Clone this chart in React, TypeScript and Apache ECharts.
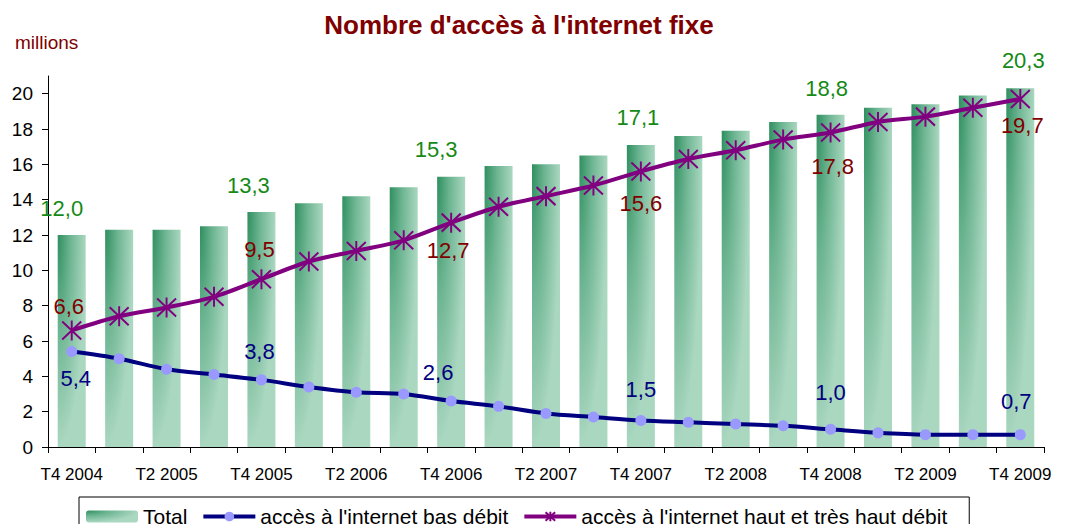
import React, { useEffect, useRef } from "react";
import * as echarts from "echarts";

const categories = [
  "T4 2004", "T1 2005", "T2 2005", "T3 2005", "T4 2005", "T1 2006", "T2 2006",
  "T3 2006", "T4 2006", "T1 2007", "T2 2007", "T3 2007", "T4 2007", "T1 2008",
  "T2 2008", "T3 2008", "T4 2008", "T1 2009", "T2 2009", "T3 2009", "T4 2009",
];
const total = [12.0, 12.3, 12.3, 12.5, 13.3, 13.8, 14.2, 14.7, 15.3, 15.9, 16.0, 16.5, 17.1, 17.6, 17.9, 18.4, 18.8, 19.2, 19.4, 19.9, 20.3];
const highSpeed = [6.6, 7.4, 7.9, 8.5, 9.5, 10.5, 11.1, 11.7, 12.7, 13.6, 14.2, 14.8, 15.6, 16.3, 16.8, 17.4, 17.8, 18.4, 18.7, 19.2, 19.7];
const lowSpeed = [5.4, 5.0, 4.4, 4.1, 3.8, 3.4, 3.1, 3.0, 2.6, 2.3, 1.9, 1.7, 1.5, 1.4, 1.3, 1.2, 1.0, 0.8, 0.7, 0.7, 0.7];
const yTicks = [0, 2, 4, 6, 8, 10, 12, 14, 16, 18, 20];
const labelledIdx = [0, 4, 8, 12, 16, 20];

// label styling (not data)
const totalLabelOffsets = [[-10, 0], [-13, 0], [-15, 0], [-3, 0], [-4, 1], [3, -1]];
const highLabelPos = ["top", "top", "bottom", "bottom", "bottom", "bottom"];
const highLabelOffsets = [[-3, 12], [-2, 6], [-3, -8], [0, -4], [2, -2], [2, -9]];
const lowLabelPos = ["bottom", "top", "top", "top", "top", "top"];
const lowLabelOffsets = [[4, -6], [-2, 4], [-13, 4], [0, 1], [0, -4], [-4, -1]];

const fmt = (v: number) => v.toFixed(1).replace(".", ",");
const FONT = "'Liberation Sans', Arial, sans-serif";

function withLabels(values: number[], color: string, pos: string[] | string, offsets: number[][], distance: number) {
  return values.map((v, i) => {
    const k = labelledIdx.indexOf(i);
    if (k < 0) return v;
    return {
      value: v,
      label: {
        show: true,
        position: Array.isArray(pos) ? pos[k] : pos,
        distance,
        offset: offsets[k],
        color,
        fontSize: 22,
        fontFamily: FONT,
        formatter: (p: any) => fmt(p.value),
      },
    };
  });
}

const barGradient = new echarts.graphic.RadialGradient(0, 0, 1, [
  { offset: 0, color: "#2f8f5f" },
  { offset: 0.45, color: "#6db592" },
  { offset: 1, color: "#aad7c0" },
]);

const starPath = "path://M0 1L18 19M18 1L0 19M9 0L9 20";

export default function App() {
  const ref = useRef<HTMLDivElement>(null);
  useEffect(() => {
    if (!ref.current) return;
    const chart = echarts.init(ref.current, undefined, { renderer: "svg" });
    chart.setOption({
      animation: false,
      textStyle: { fontFamily: FONT },
      title: {
        text: "Nombre d'accès à l'internet fixe",
        left: 514,
        textAlign: "center",
        top: 7,
        textStyle: { fontSize: 26, fontWeight: "bold", color: "#800000", fontFamily: FONT },
      },
      graphic: [
        {
          type: "text",
          left: 15,
          top: 33,
          style: { text: "millions", fontSize: 19, fill: "#800000", fontFamily: FONT },
        },
      ],
      legend: {
        left: 79,
        top: 497,
        borderColor: "#000",
        borderWidth: 1,
        padding: [9, 22, 14, 7],
        itemGap: 14,
        itemWidth: 52,
        itemHeight: 12,
        lineStyle: { width: 4 },
        textStyle: { fontSize: 21, color: "#000", fontFamily: FONT },
        data: ["Total", "accès à l'internet bas débit", "accès à l'internet haut et très haut débit"],
      },
      grid: { left: 48, right: 32, top: 76, bottom: 85, containLabel: false },
      xAxis: {
        type: "category",
        data: categories,
        axisLine: { lineStyle: { color: "#000", width: 1 } },
        axisTick: { show: true, interval: 0, length: 6, lineStyle: { color: "#000" } },
        axisLabel: { interval: 1, margin: 19, fontSize: 17, color: "#000", fontFamily: FONT },
      },
      yAxis: {
        type: "value",
        min: 0,
        max: 21,
        axisLine: { show: true, lineStyle: { color: "#000", width: 1 } },
        axisTick: { show: true, length: 6, lineStyle: { color: "#000" }, customValues: yTicks },
        axisLabel: { fontSize: 19, color: "#000", margin: 15, fontFamily: FONT, customValues: yTicks },
        splitLine: { show: false },
      },
      series: [
        {
          name: "Total",
          type: "bar",
          barWidth: 28,
          itemStyle: { color: barGradient },
          data: withLabels(total, "#158a15", "top", totalLabelOffsets, 16),
          z: 1,
        },
        {
          name: "accès à l'internet bas débit",
          type: "line",
          smooth: 0.3,
          symbol: "circle",
          symbolSize: 11,
          lineStyle: { color: "#000080", width: 4 },
          itemStyle: { color: "#9999ff", borderWidth: 0 },
          data: withLabels(lowSpeed, "#000080", lowLabelPos, lowLabelOffsets, 16),
          z: 3,
        },
        {
          name: "accès à l'internet haut et très haut débit",
          type: "line",
          smooth: 0.3,
          symbol: starPath,
          symbolSize: [19, 20],
          lineStyle: { color: "#800080", width: 4 },
          itemStyle: { color: "#800080", borderColor: "#800080", borderWidth: 2 },
          data: withLabels(highSpeed, "#800000", highLabelPos, highLabelOffsets, 14),
          z: 4,
        },
      ],
    });
    return () => chart.dispose();
  }, []);
  return <div ref={ref} style={{ width: 1076, height: 532, margin: -8 }} />;
}
